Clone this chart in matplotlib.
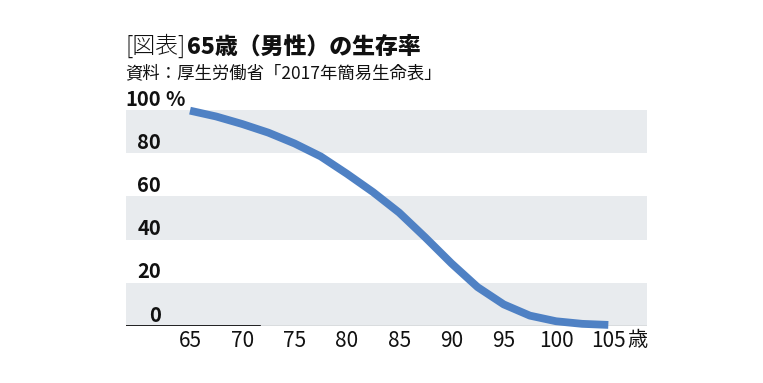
import numpy as np
import matplotlib.pyplot as plt

plt.rcParams['font.family'] = ['Noto Sans CJK JP', 'DejaVu Sans']

# 65歳男性の生存率 (%), 2017年簡易生命表
edad = [65, 67.5, 70, 72.5, 75, 77.5, 80, 82.5, 85, 87.5, 90, 92.5, 95, 97.5, 100, 102.5, 105]
tasa = [99.7, 97.0, 93.5, 89.5, 84.5, 78.5, 70.5, 62.0, 52.5, 41.0, 29.0, 18.0, 10.0, 4.8, 2.2, 1.0, 0.5]

xticks = [65, 70, 75, 80, 85, 90, 95, 100, 105]
yticks = [0, 20, 40, 60, 80, 100]

titulo_a = '[図表]'
titulo_b = '65歳（男性）の生存率'
fuente = '資料：厚生労働省「2017年簡易生命表」'

W, H = 763, 383
fig = plt.figure(figsize=(W / 100, H / 100), dpi=100)
ax = fig.add_axes([126 / W, (H - 326) / H, 521 / W, 216 / H])

# bandas grises
for lo in (0, 40, 80):
    ax.axhspan(lo, lo + 20, color='#e8ebee', lw=0, zorder=0)

ax.plot(edad, tasa, color='#4f81c4', lw=5.6, solid_capstyle='butt',
        solid_joinstyle='round', clip_on=False, zorder=3)

ax.set_xlim(58.88, 108.7)
ax.set_ylim(0, 100)

for s in ax.spines.values():
    s.set_visible(False)
ax.axhline(0, color='#a0a0a0', lw=1, zorder=1)
ax.axhline(0, xmin=0, xmax=0.257, color='black', lw=1.2, zorder=2)

ax.set_xticks(xticks)
ax.set_xticklabels([str(v) for v in xticks])
ax.tick_params(axis='x', length=0, pad=3, labelsize=15, labelcolor='#111111')
ax.set_yticks([])

# etiquetas del eje y (encima de cada linea)
for v in yticks:
    ax.annotate(str(v), xy=(0, v), xycoords=('axes fraction', 'data'),
                xytext=(35, 11), textcoords='offset pixels',
                ha='right', va='center', fontsize=14.5, fontweight='bold', color='#111111')
ax.annotate('%', xy=(0, 100), xycoords=('axes fraction', 'data'),
            xytext=(39, 11), textcoords='offset pixels',
            ha='left', va='center', fontsize=14.5, fontweight='bold', color='#111111')

ax.annotate('歳', xy=(0, 0), xycoords=('axes fraction', 'data'),
            xytext=(627 - 126, -15), textcoords='offset pixels',
            ha='left', va='center', fontsize=14.5, color='#111111')

t1 = fig.text(125 / W, 1 - 46 / H, titulo_a, fontsize=16.5, fontweight='light',
              va='center', ha='left', color='#111111')
ax.annotate(titulo_b, xy=(1, 0), xycoords=t1, xytext=(2, 0), textcoords='offset pixels',
            va='bottom', ha='left', fontsize=16.5, fontweight='heavy', color='#111111',
            annotation_clip=False)

fig.text(125 / W, 1 - 73 / H, fuente, fontsize=12.5, va='center', ha='left', color='#111111')

fig.savefig('out.png', dpi=100)
